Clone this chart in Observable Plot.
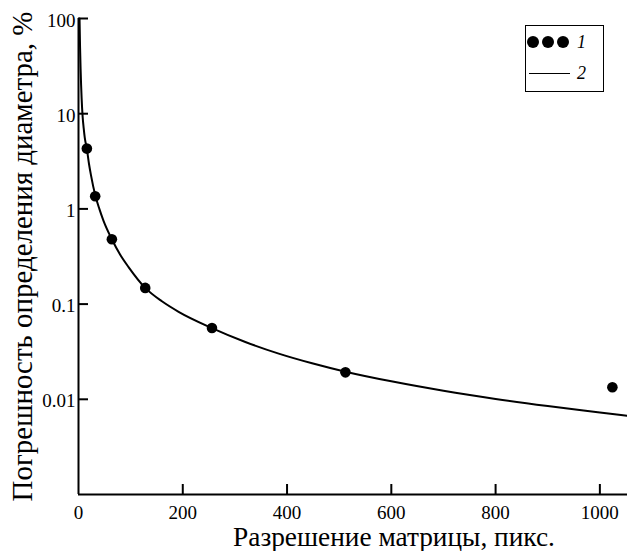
<!DOCTYPE html>
<html>
<head>
<meta charset="utf-8">
<script src="https://cdn.jsdelivr.net/npm/d3@7"></script>
<script src="https://cdn.jsdelivr.net/npm/@observablehq/plot@0.6"></script>
<style>
  body { margin: 0; background: white; }
  .serif { font-family: 'Liberation Serif'; }
</style>
</head>
<body>
<div id="wrap" style="position:relative;width:627px;height:551px;background:white">
  <div id="plotholder"></div>
  <div id="legend" class="serif" style="position:absolute;left:525px;top:25px;width:79px;height:67px;border:1.5px solid black;background:white;box-sizing:border-box;font-style:italic;font-size:18px">
    <div style="position:absolute;left:0.5px;top:10px;width:12px;height:12px;border-radius:50%;background:black"></div>
    <div style="position:absolute;left:15.5px;top:10px;width:12px;height:12px;border-radius:50%;background:black"></div>
    <div style="position:absolute;left:30.5px;top:10px;width:12px;height:12px;border-radius:50%;background:black"></div>
    <span id="lab1" class="serif" style="position:absolute;left:51px;top:7px;line-height:1"></span>
    <div style="position:absolute;left:2.5px;top:47px;width:41px;height:0;border-top:1.5px solid black"></div>
    <span id="lab2" class="serif" style="position:absolute;left:51px;top:38px;line-height:1"></span>
  </div>
</div>
<script>
// Measured points (series 1)
const pointX = [16, 32, 64, 128, 256, 512, 1024];
const pointY = [4.3, 1.36, 0.48, 0.148, 0.056, 0.0192, 0.0134];

// Curve (series 2)
const curveX = [2, 3, 4, 5, 6, 8, 10, 12, 16, 20, 24, 32, 40, 48, 64, 80, 96, 128, 160, 192, 256, 320, 384, 448, 512, 600, 700, 800, 900, 1000, 1052];
const curveY = [100, 50, 30, 20, 14.5, 9.2, 7.0, 5.6, 4.3, 3.0, 2.25, 1.4, 1.0, 0.75, 0.48, 0.33, 0.245, 0.148, 0.107, 0.083, 0.056, 0.040, 0.0302, 0.0239, 0.0195, 0.01545, 0.0123, 0.0101, 0.0085, 0.00727, 0.0067];

const xTickLabels = [0, 200, 400, 600, 800, 1000];
const xTickMarks = [200, 400, 600, 800, 1000];
const yTicks = [100, 10, 1, 0.1, 0.01];

const xTitle = "Разрешение матрицы, пикс.";
const yTitle = "Погрешность определения диаметра, %";
const legendLabels = ["1", "2"];

document.getElementById("lab1").textContent = legendLabels[0];
document.getElementById("lab2").textContent = legendLabels[1];

const points = pointX.map((x, i) => ({x, y: pointY[i]}));
const curve = curveX.map((x, i) => ({x, y: curveY[i]}));

const W = 627, H = 551, ML = 78, MR = 0, MT = 18, MB = 57;
const tickLen = 10;
const FF = "Liberation Serif";

const svg = Plot.plot({
  width: W, height: H,
  marginLeft: ML, marginRight: MR, marginTop: MT, marginBottom: MB,
  style: "font-family: 'Liberation Serif'; font-size: 19px; background: white; overflow: visible;",
  x: {domain: [0, 1053]},
  y: {type: "log", domain: [0.001, 100]},
  marks: [
    Plot.axisX(xTickLabels, {tickSize: 0, tickPadding: 11, tickFormat: d => String(d), label: null, fontSize: 19, fontFamily: FF}),
    Plot.axisY(yTicks, {tickSize: 0, tickPadding: 3, dy: 2, tickFormat: d => String(d), label: null, fontSize: 19, fontFamily: FF}),
    Plot.tickX(xTickMarks, {x: d => d, strokeWidth: 2, insetTop: (H - MT - MB) - tickLen}),
    Plot.tickY(yTicks, {y: d => d, strokeWidth: 2, insetRight: (W - ML - MR) - tickLen}),
    Plot.ruleX([0], {strokeWidth: 2}),
    Plot.ruleY([0.001], {strokeWidth: 2}),
    Plot.line(curve, {x: "x", y: "y", stroke: "black", strokeWidth: 2, curve: "monotone-x"}),
    Plot.dot(points, {x: "x", y: "y", r: 5.3, fill: "black", stroke: "none"}),
    Plot.text([xTitle], {frameAnchor: "bottom", lineAnchor: "middle", textAnchor: "middle", dy: 42.5, dx: 41, fontSize: 25, fontFamily: FF, text: d => d}),
    Plot.text([yTitle], {frameAnchor: "left", lineAnchor: "middle", textAnchor: "middle", dx: -56, rotate: -90, fontSize: 25, fontFamily: FF, text: d => d})
  ]
});
document.getElementById("plotholder").appendChild(svg);

// Fit the axis titles to the lengths they have in the reference.
for (const t of svg.querySelectorAll("text")) {
  const target = t.textContent === xTitle ? 322 : t.textContent === yTitle ? 490 : 0;
  if (!target) continue;
  const len = t.getComputedTextLength();
  if (len > 0) t.setAttribute("font-size", (25 * target / len).toFixed(2));
}
</script>
</body>
</html>
